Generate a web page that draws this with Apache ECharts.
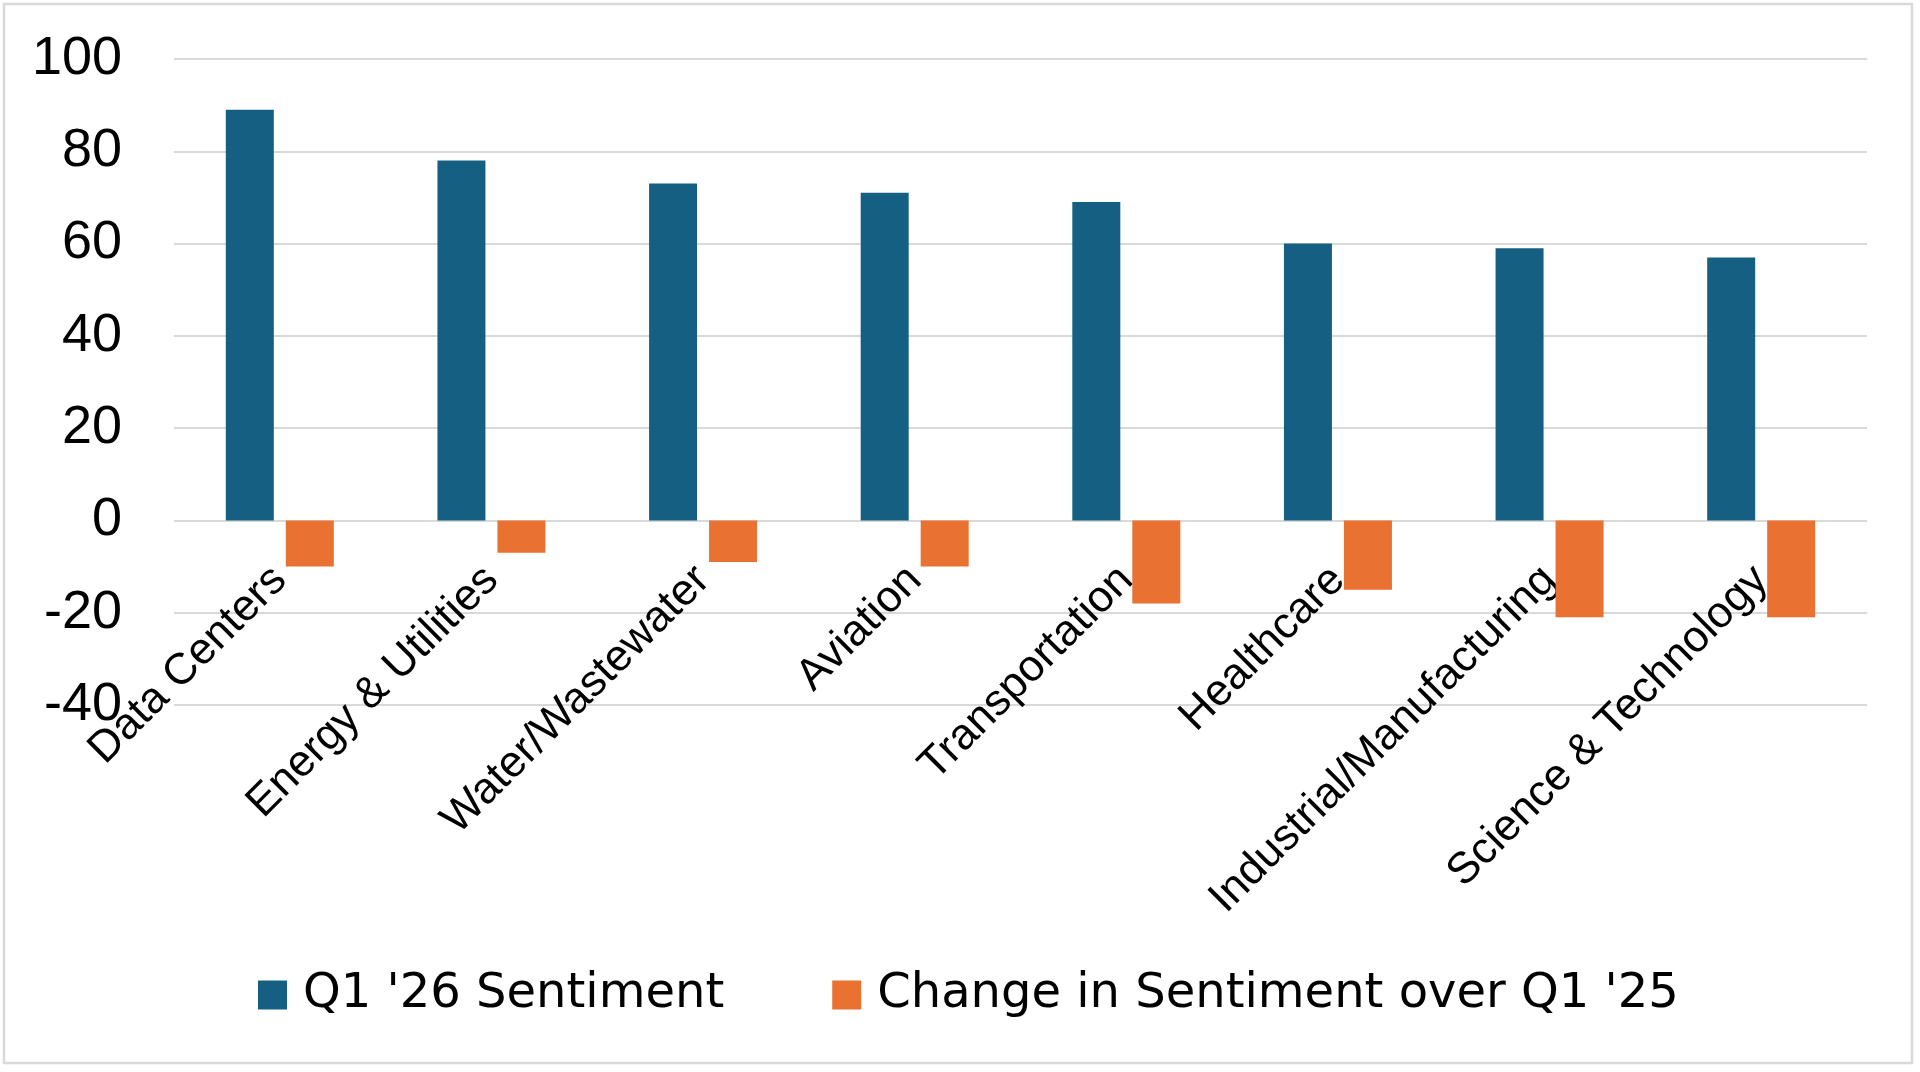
<!DOCTYPE html>
<html>
<head>
<meta charset="utf-8">
<script src="https://cdn.jsdelivr.net/npm/echarts@6/dist/echarts.min.js"></script>
<style>
  html, body { margin: 0; padding: 0; background: #ffffff; }
  #chart { width: 1920px; height: 1072px; }
</style>
</head>
<body>
<div id="chart"></div>
<script>
const categories = ['Data Centers', 'Energy & Utilities', 'Water/Wastewater', 'Aviation', 'Transportation', 'Healthcare', 'Industrial/Manufacturing', 'Science & Technology'];
const sentimentQ126 = [89, 78, 73, 71, 69, 60, 59, 57];
const changeOverQ125 = [-10, -7, -9, -10, -18, -15, -21, -21];
const seriesNames = ["Q1 '26 Sentiment", "Change in Sentiment over Q1 '25"];
const yTicks = { min: -40, max: 100, interval: 20 };

const gridTop = 59, gridBottom = 367, H = 1072;
const plotH = H - gridTop - gridBottom;
// distance from bottom of plot up to the zero line (labels hang from zero like the original)
const zeroOffset = plotH * (0 - yTicks.min) / (yTicks.max - yTicks.min);

const chart = echarts.init(document.getElementById('chart'), null, { renderer: 'canvas' });
chart.setOption({
  backgroundColor: '#ffffff',
  animation: false,
  graphic: [{
    type: 'rect',
    shape: { x: 4, y: 4, width: 1908, height: 1059 },
    style: { fill: 'none', stroke: '#D9D9D9', lineWidth: 2.5 },
    silent: true,
    z: -1
  }],
  grid: { left: 174, right: 53, top: gridTop, bottom: gridBottom, containLabel: false, outerBoundsMode: 'none' },
  legend: {
    data: seriesNames,
    left: 253,
    top: 966,
    icon: 'rect',
    itemWidth: 29,
    itemHeight: 29,
    itemGap: 108,
    textStyle: {
      fontFamily: 'DejaVu Sans',
      fontSize: 48,
      color: '#000000',
      padding: [0, 0, 0, 11]
    }
  },
  xAxis: {
    type: 'category',
    data: categories,
    offset: -zeroOffset,
    axisLine: { show: false, onZero: false },
    axisTick: { show: false },
    axisLabel: {
      interval: 0,
      rotate: 45,
      margin: 53,
      fontFamily: 'Liberation Sans, Arial, sans-serif',
      fontSize: 44,
      color: '#000000'
    },
    splitLine: { show: false }
  },
  yAxis: {
    type: 'value',
    min: yTicks.min,
    max: yTicks.max,
    interval: yTicks.interval,
    axisLine: { show: false },
    axisTick: { show: false },
    axisLabel: {
      margin: 52,
      fontFamily: 'Liberation Sans, Arial, sans-serif',
      fontSize: 54,
      color: '#000000'
    },
    splitLine: { lineStyle: { color: '#D9D9D9', width: 2 } }
  },
  series: [
    {
      name: seriesNames[0],
      type: 'bar',
      data: sentimentQ126,
      barWidth: 48,
      barGap: '25%',
      itemStyle: { color: '#156082' }
    },
    {
      name: seriesNames[1],
      type: 'bar',
      data: changeOverQ125,
      barWidth: 48,
      barGap: '25%',
      itemStyle: { color: '#E97132' }
    }
  ]
});
</script>
</body>
</html>
